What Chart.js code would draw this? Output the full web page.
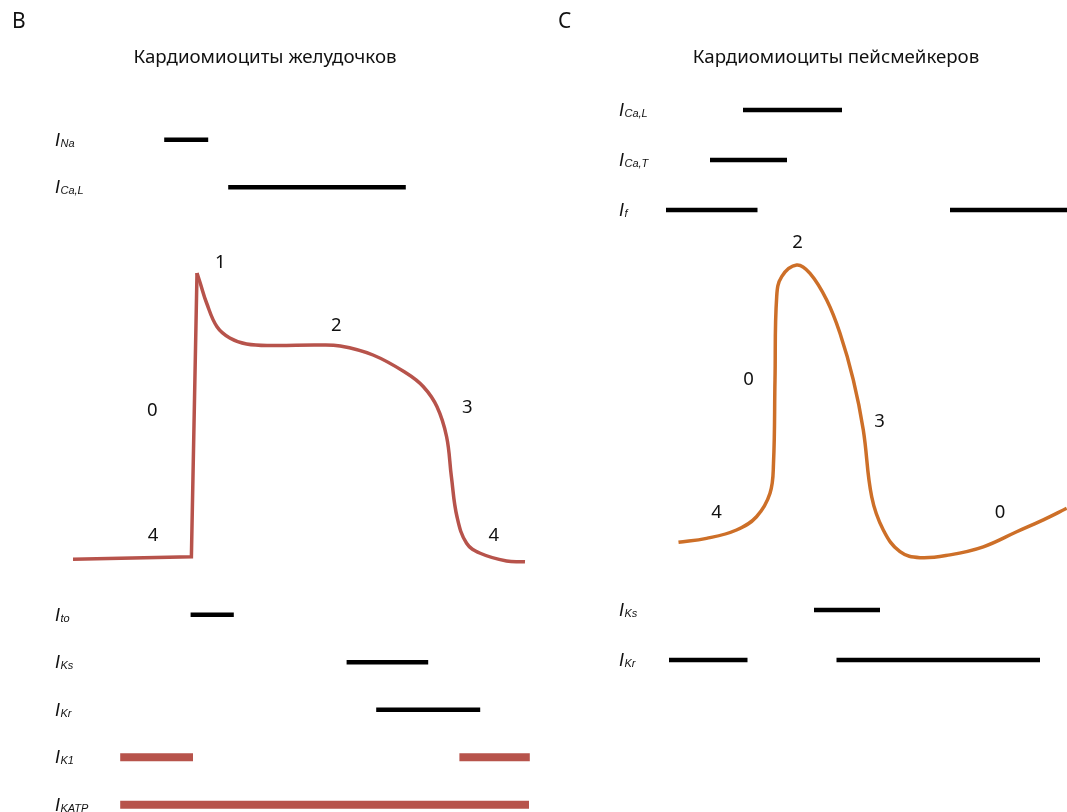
<!DOCTYPE html>
<html lang="ru">
<head>
<meta charset="utf-8">
<title>Кардиомиоциты</title>
<script src="https://cdn.jsdelivr.net/npm/chart.js@4.4.0/dist/chart.umd.min.js"></script>
<style>
  html, body { margin: 0; padding: 0; background: #fff; }
  #wrap { position: relative; width: 1067px; height: 812px; overflow: hidden; }
  canvas { position: absolute; top: 0; }
  #ventricular { left: 0; }
  #pacemaker { left: 540px; }
</style>
</head>
<body>
<div id="wrap">
  <canvas id="ventricular" width="540" height="812"></canvas>
  <canvas id="pacemaker" width="527" height="812"></canvas>
</div>
<script>
// --- Желудочки: время (мс) и потенциал (мВ) ---
const ventUpTime = [-150, -2, 5];
const ventUpVoltage = [-85.5, -84.5, 29];
const ventRepolTime = [5, 9, 17, 30, 46, 67, 100, 155, 184, 225, 267, 288, 305, 317, 323, 330, 342, 359, 392, 415];
const ventRepolVoltage = [29, 25, 17, 7.5, 3, 0.6, 0, 0.2, -0.2, -3.8, -11.1, -16.5, -24.5, -36.5, -52.5, -68.5, -79.1, -83.1, -86.2, -86.5];

// токи: название, ряд, интервалы активности (мс)
const ventCurrentNames = ['Na', 'Ca,L', 'to', 'Ks', 'Kr', 'K1', 'KATP'];
const ventCurrentRows = [0, 1, 10, 11, 12, 13, 14];
const ventCurrentSpans = [
  [[-36, 19]],
  [[44, 266]],
  [[-3, 51]],
  [[192, 294]],
  [[229, 359]],
  [[-91, 0], [333, 421]],
  [[-91, 420]]
];
const ventStrongCurrents = ['K1', 'KATP'];

const ventPhaseText = ['1', '2', '0', '3', '4', '4'];
const ventPhaseTime = [34, 179, -51, 343, -50, 376];
const ventPhaseVoltage = [33, 8, -26, -25, -76, -76];

// --- Пейсмейкеры ---
const paceTime = [-193, -137, -77, -37, -10, -3, 0, 3.4, 13.4, 43.4, 70, 103.4, 130, 156.6, 176.6, 193.4, 216.6, 250, 290, 350, 416.6, 483.4, 536.6, 583.4];
const paceVoltage = [-60.5, -59.4, -57, -53.2, -46.5, -37.9, -14.1, 9.7, 15.4, 18.7, 16.3, 8.7, -0.8, -14.1, -28.4, -47.5, -57, -63.2, -64.9, -64.1, -61.8, -57.5, -54.1, -50.8];

const paceCurrentNames = ['Ca,L', 'Ca,T', 'f', 'Ks', 'Kr'];
const paceCurrentRows = [0, 1, 2, 10, 11];
const paceCurrentSpans = [
  [[-64, 134]],
  [[-130, 24]],
  [[-218, -35], [350, 584]],
  [[78, 210]],
  [[-212, -55], [123, 530]]
];

const pacePhaseText = ['2', '0', '3', '4', '0'];
const pacePhaseTime = [45, -53, 209, -117, 450];
const pacePhaseVoltage = [25, -14, -26, -52, -52];

const INK = '#111111';
const FONT = '"Noto Sans", "Open Sans", sans-serif';
const LABEL_FONT = '"Liberation Sans", "Open Sans", sans-serif';

function points(xs, ys) {
  return xs.map((x, i) => ({ x: x, y: ys[i] }));
}

// подписи, заголовок и номера фаз
const textPlugin = {
  id: 'panelText',
  afterDatasetsDraw(chart) {
    const p = chart.options.plugins.panelText;
    const ctx = chart.ctx;
    const xs = chart.scales.x, ys = chart.scales.y, lanes = chart.scales.lane;
    ctx.save();
    ctx.fillStyle = INK;

    ctx.font = '21px ' + FONT;
    ctx.textAlign = 'left';
    ctx.textBaseline = 'alphabetic';
    ctx.fillText(p.letter, p.letterX, 28);

    ctx.font = '18.7px ' + FONT;
    ctx.textAlign = 'center';
    ctx.fillText(p.title, p.titleX, 63);

    p.names.forEach((name, i) => {
      const y = lanes.getPixelForValue(p.rows[i]) + 6;
      ctx.textAlign = 'left';
      ctx.font = 'italic 18px ' + LABEL_FONT;
      ctx.fillText('I', p.labelX, y);
      const w = ctx.measureText('I').width;
      ctx.font = 'italic 11px ' + LABEL_FONT;
      ctx.fillText(name, p.labelX + w + 0.5, y + 1);
    });

    ctx.font = '18.5px ' + FONT;
    ctx.textAlign = 'center';
    ctx.textBaseline = 'middle';
    p.phaseText.forEach((t, i) => {
      ctx.fillText(t, xs.getPixelForValue(p.phaseTime[i]), ys.getPixelForValue(p.phaseVoltage[i]));
    });
    ctx.restore();
  }
};

function currentDatasets(names, rows, spans, strong) {
  const sets = [];
  names.forEach((name, i) => {
    spans[i].forEach(([a, b]) => {
      const red = strong.includes(name);
      sets.push({
        data: [{ x: a, y: rows[i] }, { x: b, y: rows[i] }],
        yAxisID: 'lane',
        showLine: true,
        borderColor: red ? '#b7534b' : '#000000',
        borderWidth: red ? 8 : 4.5,
        borderCapStyle: 'butt',
        pointRadius: 0,
        tension: 0
      });
    });
  });
  return sets;
}

function makePanel(id, curves, currents, text, layout) {
  const canvas = document.getElementById(id);
  const W = canvas.width, H = canvas.height;
  new Chart(canvas.getContext('2d'), {
    type: 'scatter',
    data: {
      datasets: curves.concat(currentDatasets(currents.names, currents.rows, currents.spans, currents.strong))
    },
    options: {
      responsive: false,
      animation: false,
      events: [],
      layout: { padding: 0 },
      plugins: {
        legend: { display: false },
        tooltip: { enabled: false },
        panelText: Object.assign({ names: currents.names, rows: currents.rows }, text)
      },
      scales: {
        x: {
          type: 'linear', display: false,
          min: -layout.zeroX * layout.msPerPx,
          max: (W - layout.zeroX) * layout.msPerPx
        },
        y: {
          type: 'linear', display: false,
          min: layout.refMv - (H - layout.refY) / layout.pxPerMv,
          max: layout.refMv + layout.refY / layout.pxPerMv
        },
        lane: {
          type: 'linear', display: false, reverse: true,
          min: -layout.laneTop / layout.laneStep,
          max: (H - layout.laneTop) / layout.laneStep
        }
      }
    },
    plugins: [textPlugin]
  });
}

const ventRed = '#b7534b';
makePanel('ventricular',
  [
    { data: points(ventUpTime, ventUpVoltage), showLine: true, borderColor: ventRed, borderWidth: 3.5,
      pointRadius: 0, tension: 0, borderJoinStyle: 'miter' },
    { data: points(ventRepolTime, ventRepolVoltage), showLine: true, borderColor: ventRed, borderWidth: 3.5,
      pointRadius: 0, tension: 0.4, borderJoinStyle: 'round' }
  ],
  { names: ventCurrentNames, rows: ventCurrentRows, spans: ventCurrentSpans, strong: ventStrongCurrents },
  { letter: 'B', letterX: 12, title: 'Кардиомиоциты желудочков', titleX: 265, labelX: 55,
    phaseText: ventPhaseText, phaseTime: ventPhaseTime, phaseVoltage: ventPhaseVoltage },
  { zeroX: 193, msPerPx: 1.25, refY: 558, refMv: -85, pxPerMv: 2.5, laneTop: 139.8, laneStep: 47.5 }
);

makePanel('pacemaker',
  [
    { data: points(paceTime, paceVoltage), showLine: true, borderColor: '#cd6f28', borderWidth: 3.5,
      pointRadius: 0, tension: 0.4, borderJoinStyle: 'round' }
  ],
  { names: paceCurrentNames, rows: paceCurrentRows, spans: paceCurrentSpans, strong: [] },
  { letter: 'C', letterX: 18, title: 'Кардиомиоциты пейсмейкеров', titleX: 296, labelX: 79,
    phaseText: pacePhaseText, phaseTime: pacePhaseTime, phaseVoltage: pacePhaseVoltage },
  { zeroX: 235, msPerPx: 2, refY: 558, refMv: -65, pxPerMv: 3.5, laneTop: 110, laneStep: 50 }
);
</script>
</body>
</html>
